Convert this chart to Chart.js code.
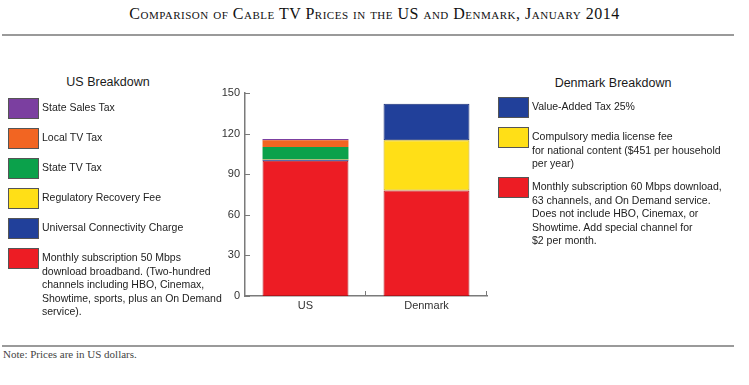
<!DOCTYPE html>
<html>
<head>
<meta charset="utf-8">
<script src="https://cdn.jsdelivr.net/npm/chart.js@4.4.1/dist/chart.umd.min.js"></script>
<style>
  body { margin: 0; background: #fff; }
  #page { position: relative; width: 749px; height: 385px; overflow: hidden; font-family: "Liberation Sans", Arial, sans-serif; color: #222; }
  #title { position: absolute; left: 0; width: 749px; top: 5px; text-align: center; font-family: "Liberation Serif", serif; font-size: 16px; letter-spacing: 0.5px; font-variant: small-caps; color: #111; }
  .rule { position: absolute; left: 2px; width: 732px; height: 2px; background: #9a9a9a; }
  #note { position: absolute; left: 3px; top: 348px; font-family: "Liberation Serif", serif; font-size: 11px; color: #444; }
  #chartBox { position: absolute; left: 200px; top: 80px; width: 300px; height: 240px; }
  .head { position: absolute; font-size: 12.5px; text-align: center; color: #1a1a1a; }
  .item { position: absolute; font-size: 10.5px; line-height: 13.5px; }
  .sw { position: absolute; width: 29px; height: 19px; border: 1px solid #555; }
</style>
</head>
<body>
<div id="page">
  <div id="title">Comparison of Cable TV Prices in the US and Denmark, January 2014</div>
  <div class="rule" style="top:34px"></div>
  <div class="rule" style="top:345px"></div>
  <div id="note">Note: Prices are in US dollars.</div>
  <div id="chartBox"><canvas id="chart"></canvas></div>
  <div id="legends"></div>
</div>
<script>
// Chart values (US dollars per month)
const categories = ['US', 'Denmark'];
const monthlySubscription = [100, 78];
const universalConnectivity = [0.6, 0];
const regulatoryRecovery = [0.5, 0];
const stateTvTax = [9, 0];
const localTvTax = [5, 0];
const stateSalesTax = [1, 0];
const mediaLicenseFee = [0, 37];
const valueAddedTax = [0, 27];
const yTicks = [0, 30, 60, 90, 120, 150];

const colors = {
    purple: '#7b3fa0',
    orange: '#f26522',
    green: '#0ba14b',
    yellow: '#ffdf17',
    blue: '#21409a',
    red: '#ed1c24'
};

const usLegend = [
    { color: colors.purple, text: 'State Sales Tax' },
    { color: colors.orange, text: 'Local TV Tax' },
    { color: colors.green, text: 'State TV Tax' },
    { color: colors.yellow, text: 'Regulatory Recovery Fee' },
    { color: colors.blue, text: 'Universal Connectivity Charge' },
    { color: colors.red, text: 'Monthly subscription 50 Mbps<br>download broadband. (Two-hundred<br>channels including HBO, Cinemax,<br>Showtime, sports, plus an On Demand<br>service).' }
];
const dkLegend = [
    { color: colors.blue, text: 'Value-Added Tax 25%', top: 97 },
    { color: colors.yellow, text: 'Compulsory media license fee<br>for national content ($451 per household<br>per year)', top: 127 },
    { color: colors.red, text: 'Monthly subscription 60 Mbps download,<br>63 channels, and On Demand service.<br>Does not include HBO, Cinemax, or<br>Showtime. Add special channel for<br>$2 per month.', top: 177 }
];

// Build HTML legends
function buildLegends() {
    const box = document.getElementById('legends');
    let html = '<div class="head" style="left:40px;width:136px;top:75px">US Breakdown</div>';
    usLegend.forEach((it, i) => {
        const top = 98 + i * 30;
        html += `<div class="sw" style="left:8px;top:${top}px;background:${it.color}"></div>`;
        html += `<div class="item" style="left:42px;top:${top + 3}px">${it.text}</div>`;
    });
    html += '<div class="head" style="left:540px;width:146px;top:76px">Denmark Breakdown</div>';
    dkLegend.forEach(it => {
        html += `<div class="sw" style="left:498px;top:${it.top}px;background:${it.color}"></div>`;
        html += `<div class="item" style="left:532px;top:${it.top + 3}px">${it.text}</div>`;
    });
    box.innerHTML = html;
}
buildLegends();

// Inward tick marks like the original figure
const innerTicks = {
    id: 'innerTicks',
    afterDraw(chart) {
        const { ctx, chartArea, scales } = chart;
        ctx.save();
        ctx.strokeStyle = '#7a7a7a';
        ctx.lineWidth = 1;
        ctx.beginPath();
        yTicks.forEach(v => {
            const y = Math.round(scales.y.getPixelForValue(v)) + 0.5;
            ctx.moveTo(chartArea.left, y);
            ctx.lineTo(chartArea.left + 5, y);
        });
        const half = (chartArea.right - chartArea.left) / categories.length;
        for (let i = 1; i <= categories.length; i++) {
            const x = Math.round(chartArea.left + half * i) - 0.5;
            ctx.moveTo(x, chartArea.bottom);
            ctx.lineTo(x, chartArea.bottom - 5);
        }
        ctx.stroke();
        ctx.restore();
    }
};

function ds(label, data, color, border) {
    return {
        label: label,
        data: data,
        backgroundColor: color,
        borderColor: border || color,
        borderWidth: border ? 1 : 0,
        borderSkipped: false,
        barPercentage: 0.71,
        categoryPercentage: 1.0
    };
}

const ctx = document.getElementById('chart');
window.cableChart = new Chart(ctx, {
    type: 'bar',
    data: {
        labels: categories,
        datasets: [
            ds('Monthly subscription', monthlySubscription, colors.red, '#b3141a'),
            ds('Universal Connectivity Charge', universalConnectivity, colors.blue),
            ds('Regulatory Recovery Fee', regulatoryRecovery, colors.yellow),
            ds('State TV Tax', stateTvTax, colors.green),
            ds('Local TV Tax', localTvTax, colors.orange),
            ds('State Sales Tax', stateSalesTax, colors.purple),
            ds('Compulsory media license fee', mediaLicenseFee, colors.yellow, '#c9a800'),
            ds('Value-Added Tax 25%', valueAddedTax, colors.blue, '#1a2f75')
        ]
    },
    options: {
        responsive: true,
        maintainAspectRatio: false,
        animation: false,
        layout: { padding: { left: 0, right: 13, top: 13, bottom: 0 } },
        plugins: {
            legend: { display: false },
            tooltip: { enabled: false }
        },
        scales: {
            x: {
                stacked: true,
                grid: { display: false, drawTicks: false },
                border: { color: '#7a7a7a', width: 1.5 },
                ticks: { padding: 3, color: '#333', font: { family: 'Liberation Sans', size: 11 } },
                afterFit(scale) { scale.height = 24; }
            },
            y: {
                stacked: true,
                min: 0,
                max: 150,
                afterBuildTicks(scale) { scale.ticks = yTicks.map(v => ({ value: v })); },
                grid: { display: false, drawTicks: false },
                border: { color: '#7a7a7a', width: 1.5 },
                ticks: { padding: 5, color: '#333', font: { family: 'Liberation Sans', size: 11 } },
                afterFit(scale) { scale.width = 45; }
            }
        }
    },
    plugins: [innerTicks]
});
</script>
</body>
</html>
